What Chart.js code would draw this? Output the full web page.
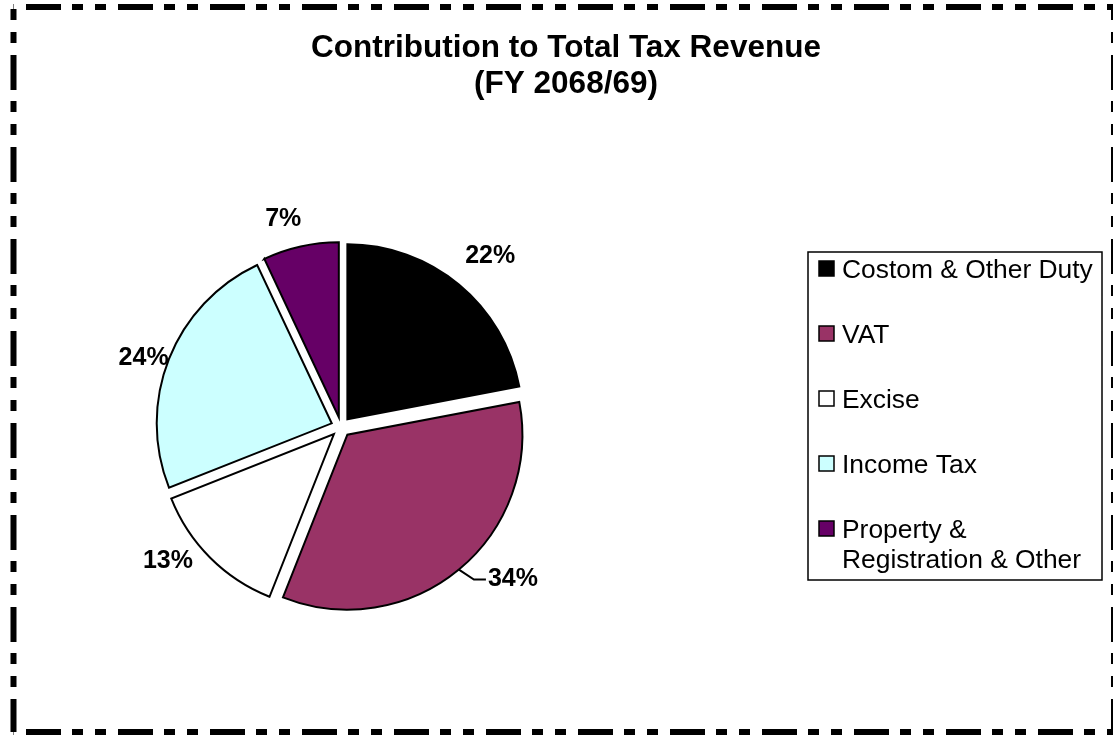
<!DOCTYPE html>
<html>
<head>
<meta charset="utf-8">
<title>Contribution to Total Tax Revenue</title>
<script src="https://cdn.jsdelivr.net/npm/chart.js@4/dist/chart.umd.min.js"></script>
<style>
  html, body { margin: 0; padding: 0; background: #ffffff; }
  #wrap { width: 1113px; height: 735px; position: relative; }
  canvas { display: block; }
</style>
</head>
<body>
<div id="wrap"><canvas id="taxPie" width="1113" height="735"></canvas></div>
<script>
// Revenue heads and their share of total tax revenue (percent)
const categories = ['Costom & Other Duty', 'VAT', 'Excise', 'Income Tax', 'Property & Registration & Other'];
const shares = [22, 34, 13, 24, 7];
const sliceColors = ['#000000', '#993366', '#FFFFFF', '#CCFFFF', '#660066'];
const titleLines = ['Contribution to Total Tax Revenue', '(FY 2068/69)'];

const FONT = 'Arial, "Liberation Sans", Helvetica, sans-serif';
const PIE_RADIUS = 175;
const EXPLODE = 10;

// Pull every slice outward along its bisector (keeps slice radius unchanged)
const explodeSlices = {
  id: 'explodeSlices',
  afterDatasetUpdate(chart, args) {
    args.meta.data.forEach(arc => {
      const mid = (arc.startAngle + arc.endAngle) / 2;
      arc.x += Math.cos(mid) * EXPLODE;
      arc.y += Math.sin(mid) * EXPLODE;
    });
  }
};

// White page with a dash-dot-dot frame around it
const pageFrame = {
  id: 'pageFrame',
  beforeDraw(chart) {
    const ctx = chart.ctx;
    ctx.save();
    ctx.fillStyle = '#ffffff';
    ctx.fillRect(0, 0, chart.width, chart.height);
    ctx.restore();
  },
  afterDraw(chart) {
    const ctx = chart.ctx;
    const x0 = 13.5, y0 = 7, x1 = 1114, y1 = 732;
    ctx.save();
    ctx.strokeStyle = '#000000';
    ctx.lineWidth = 6;
    ctx.lineCap = 'butt';
    ctx.setLineDash([35, 11, 11, 12, 11, 12]);
    const side = (ax, ay, bx, by, off) => {
      ctx.lineDashOffset = off;
      ctx.beginPath();
      ctx.moveTo(ax, ay);
      ctx.lineTo(bx, by);
      ctx.stroke();
    };
    side(x0, y0, x1, y0, 79.5);
    side(x0, y1, x1, y1, 79.5);
    side(x0, y0, x0, y1, 44);
    side(x1, y0, x1, y1, 44);
    ctx.restore();
  }
};

// Two-line bold title centred above the plot
const titleBlock = {
  id: 'titleBlock',
  afterDraw(chart) {
    const ctx = chart.ctx;
    ctx.save();
    ctx.fillStyle = '#000000';
    ctx.font = 'bold 31.5px ' + FONT;
    ctx.textAlign = 'center';
    ctx.textBaseline = 'alphabetic';
    const baselines = [57, 93];
    titleLines.forEach((t, i) => ctx.fillText(t, 566, baselines[i]));
    ctx.restore();
  }
};

// Percentage labels outside each slice; VAT label sits on a short leader
const labelPlacement = [
  { turn: 1.5, dist: 227 },
  { leader: true },
  { turn: 7.2, dist: 219 },
  { turn: -2.4, dist: 209 },
  { turn: -2.9, dist: 216 }
];
const sliceLabels = {
  id: 'sliceLabels',
  afterDatasetsDraw(chart) {
    const ctx = chart.ctx;
    const area = chart.chartArea;
    const cx = (area.left + area.right) / 2;
    const cy = (area.top + area.bottom) / 2;
    const meta = chart.getDatasetMeta(0);
    const values = chart.data.datasets[0].data;
    ctx.save();
    ctx.fillStyle = '#000000';
    ctx.strokeStyle = '#000000';
    ctx.font = 'bold 25px ' + FONT;
    meta.data.forEach((arc, i) => {
      const text = values[i] + '%';
      const mid = (arc.startAngle + arc.endAngle) / 2;
      const p = labelPlacement[i];
      if (p.leader) {
        const r = arc.outerRadius + EXPLODE;
        const ex = cx + Math.cos(mid) * r;
        const ey = cy + Math.sin(mid) * r;
        const bx = ex + 15, by = ey + 10;
        const tx = bx + 12;
        ctx.lineWidth = 2;
        ctx.beginPath();
        ctx.moveTo(ex, ey);
        ctx.lineTo(bx, by);
        ctx.lineTo(tx, by);
        ctx.stroke();
        ctx.textAlign = 'left';
        ctx.textBaseline = 'middle';
        ctx.fillText(text, tx + 2, by);
      } else {
        const a = mid + p.turn * Math.PI / 180;
        ctx.textAlign = 'center';
        ctx.textBaseline = 'middle';
        ctx.fillText(text, cx + Math.cos(a) * p.dist, cy + Math.sin(a) * p.dist);
      }
    });
    ctx.restore();
  }
};

// Framed legend on the right with wrapped entries
const boxLegend = {
  id: 'boxLegend',
  afterDraw(chart) {
    const ctx = chart.ctx;
    const bx = 808, by = 252, bw = 294, bh = 328;
    const labels = chart.data.labels;
    const colors = chart.data.datasets[0].backgroundColor;
    ctx.save();
    ctx.lineWidth = 1.5;
    ctx.strokeStyle = '#000000';
    ctx.strokeRect(bx, by, bw, bh);
    ctx.font = '26.4px ' + FONT;
    ctx.textAlign = 'left';
    ctx.textBaseline = 'alphabetic';
    const wrap = (text, maxW) => {
      const words = text.split(' ');
      const lines = [];
      let cur = '';
      words.forEach(w => {
        const test = cur ? cur + ' ' + w : w;
        if (cur && ctx.measureText(test).width > maxW) { lines.push(cur); cur = w; }
        else cur = test;
      });
      if (cur) lines.push(cur);
      return lines;
    };
    labels.forEach((lab, i) => {
      const base = 278 + 65 * i;
      ctx.fillStyle = colors[i];
      ctx.fillRect(819, base - 17, 15, 15);
      ctx.lineWidth = 1.5;
      ctx.strokeRect(819, base - 17, 15, 15);
      ctx.fillStyle = '#000000';
      wrap(lab, 256).forEach((line, k) => ctx.fillText(line, 842, base + 30 * k));
    });
    ctx.restore();
  }
};

new Chart(document.getElementById('taxPie'), {
  type: 'pie',
  data: {
    labels: categories,
    datasets: [{
      data: shares,
      backgroundColor: sliceColors,
      borderColor: '#000000',
      borderWidth: 2,
      borderJoinStyle: 'miter',
      radius: PIE_RADIUS
    }]
  },
  options: {
    responsive: false,
    animation: false,
    events: [],
    layout: { padding: { left: 141, right: 572, top: 227, bottom: 108 } },
    plugins: {
      legend: { display: false },
      title: { display: false },
      tooltip: { enabled: false }
    }
  },
  plugins: [explodeSlices, pageFrame, titleBlock, sliceLabels, boxLegend]
});
</script>
</body>
</html>
